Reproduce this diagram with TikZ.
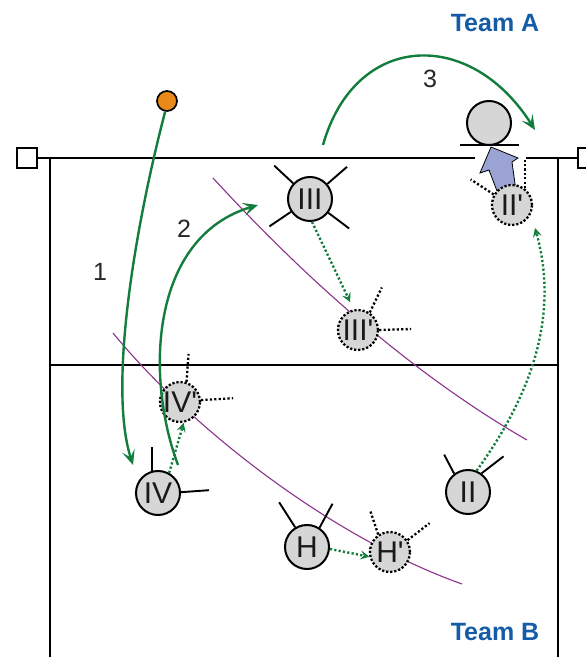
\documentclass[tikz,border=0pt]{standalone}
\usepackage{fontspec}
\setmainfont{Liberation Sans}
\usetikzlibrary{arrows.meta}
\definecolor{grn}{RGB}{18,125,60}
\definecolor{purp}{RGB}{140,50,140}
\definecolor{teamblue}{RGB}{20,92,168}
\definecolor{pfill}{RGB}{214,214,214}
\definecolor{ballc}{RGB}{232,137,26}
\definecolor{blk}{RGB}{155,162,212}
\newcommand{\prm}{\textquotesingle}
\begin{document}
\begin{tikzpicture}[x=1pt,y=1pt,
  plr/.style={circle,draw=black,line width=2pt,fill=pfill,minimum size=44pt,inner sep=0pt,font=\fontsize{30}{30}\selectfont,text=black!90},
  plrd/.style={plr,line width=2.3pt,dash pattern=on 2.2pt off 1.9pt,minimum size=40pt},
  plray/.style={line width=1.9pt},
  plrayd/.style={line width=2.3pt,dash pattern=on 2.2pt off 2.2pt},
  runarrow/.style={grn,line width=2.4pt,-{Stealth[length=15pt,width=13pt,inset=7pt]}},
  dotarrow/.style={grn,line width=2.4pt,dash pattern=on 2.2pt off 2.2pt,-{Stealth[length=9pt,width=9pt,inset=3.5pt,line width=0.8pt]}},
  courtline/.style={line width=2.4pt,black},
  purpline/.style={purp,line width=1.1pt},
  teamlbl/.style={font=\bfseries\fontsize{25}{25}\selectfont,text=teamblue},
  numlbl/.style={font=\fontsize{25}{25}\selectfont,text=black!85}]
\useasboundingbox (0,0) rectangle (586,657);
% court and net
\draw[courtline] (17,489) rectangle (37,509);
\draw[courtline] (578,489) rectangle (598,509);
\draw[courtline] (37,499) -- (475,499);
\draw[courtline] (526,499) -- (578,499);
\draw[courtline] (50,499) -- (50,-2);
\draw[courtline] (558,499) -- (558,-2);
\draw[courtline] (50,292) -- (558,292);
% purple lines
\draw[purpline] (213,479) .. controls (290,395) and (400,290) .. (527,217);
\draw[purpline] (113,324) .. controls (190,230) and (330,120) .. (462,73);
% team labels
\node[teamlbl] (teamA) at (495,634) {Team A};
\node[teamlbl] (teamB) at (495,25) {Team B};
% numbers
\node[numlbl] (n1) at (100,385) {1};
\node[numlbl] (n2) at (184,428) {2};
\node[numlbl] (n3) at (430,578) {3};
% ball
\node[circle,draw=black,line width=1.7pt,fill=ballc,minimum size=20pt,inner sep=0pt] (ball) at (167,556) {};
% Team A blocker
\node[plr] (A) at (489,534) {};
\draw[line width=1.9pt] (460,512) -- (519,512);
% blue block arrow
\draw[fill=blk,line width=0.8pt] (491,510) -- (518,499) -- (512,495) -- (516,466) -- (497,466) -- (489,487) -- (480,484) -- cycle;
% players
\node[plr] (III) at (310,458) {III};
\node[plrd] (IIIp) at (358,327) {III\prm};
\node[plrd] (IVp) at (180,255) {IV\prm};
\node[plr] (IV) at (158,164) {IV};
\node[plr] (H) at (307,110) {H};
\node[plrd] (Hp) at (390,105) {H\prm};
\node[plr] (II) at (468,165) {II};
\node[plrd] (IIp) at (512,452) {II\prm};
% rays
\draw[plray] (III.137) -- ++(137:26);
\draw[plray] (III.41) -- ++(41:26);
\draw[plray] (III.214) -- ++(214:26);
\draw[plray] (III.-37) -- ++(-37:26);
\draw[plray] (IV.106) -- ++(0,24);
\draw[plray] (IV.2) -- ++(28,2);
\draw[plray] (H.121) -- ++(-16,25);
\draw[plray] (H.57) -- ++(13,24);
\draw[plray] (II.127) -- ++(-10,19);
\draw[plray] (II.54) -- ++(22,17);
\draw[plrayd] (IIIp.56) -- ++(12,25);
\draw[plrayd] (IIIp.0) -- ++(32,1);
\draw[plrayd] (IVp.72) -- ++(2,28);
\draw[plrayd] (IVp.5) -- ++(32,2);
\draw[plrayd] (Hp.124) -- ++(-8,24);
\draw[plrayd] (Hp.34) -- ++(22,17);
\draw[plrayd] (IIp.150) -- ++(-23,15);
\draw[plrayd] (IIp.53) -- ++(0,30);
% green ball paths
\coordinate (e1) at (133,192);
\coordinate (s2) at (178,192);
\coordinate (e2) at (258,452);
\coordinate (s3) at (323,512);
\coordinate (e3) at (535,527);
\draw[runarrow] (ball.-100) .. controls (135,430) and (108,270) .. (e1);
\draw[runarrow] (s2) .. controls (145,280) and (150,420) .. (e2);
\draw[runarrow] (s3) .. controls (355,625) and (470,630) .. (e3);
% dotted movements
\coordinate (e4) at (535,429);
\draw[dotarrow,shorten >=8pt] (III.-85) -- (IIIp.102);
\draw[dotarrow] (IV.61) -- (IVp.-80);
\draw[dotarrow] (H.-5) -- (Hp.193);
\draw[dotarrow] (II.68) .. controls (530,260) and (560,340) .. (e4);
\end{tikzpicture}
\end{document}
